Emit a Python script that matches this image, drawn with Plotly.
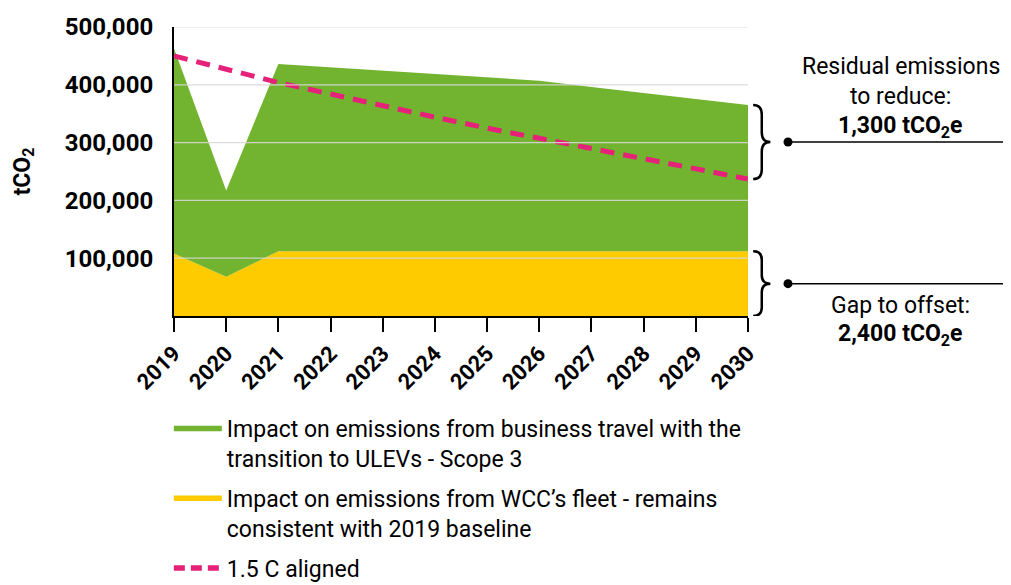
import plotly.graph_objects as go

# ---- data ----
years = list(range(2019, 2031))
fleet = [108000, 68000, 112000, 112000, 112000, 112000, 112000, 112000, 112000, 112000, 112000, 112000]
business = [355000, 149000, 324000, 318000, 312000, 307000, 301000, 295000, 284000, 274000, 263000, 253000]
target = [450000, 427000, 404000, 384000, 363000, 344000, 325000, 307000, 289000, 271000, 254000, 237000]
y_ticks = [100000, 200000, 300000, 400000, 500000]

legend_names = [
    "Impact on emissions from business travel with the<br>transition to ULEVs - Scope 3",
    "Impact on emissions from WCC\u2019s fleet - remains<br>consistent with 2019 baseline",
    "1.5 C aligned",
]

GREEN = "#72B42F"
YELLOW = "#FECB00"
PINK = "#E5217A"
FONT = "Roboto"

fig = go.Figure()

fig.add_trace(go.Scatter(x=years, y=fleet, stackgroup="one", mode="lines",
                         line=dict(width=0, color=YELLOW), fillcolor=YELLOW,
                         showlegend=False, hoverinfo="skip"))
fig.add_trace(go.Scatter(x=years, y=business, stackgroup="one", mode="lines",
                         line=dict(width=0, color=GREEN), fillcolor=GREEN,
                         showlegend=False, hoverinfo="skip"))
fig.add_trace(go.Scatter(x=years, y=target, mode="lines",
                         line=dict(color=PINK, width=5, dash="14px,9px"),
                         showlegend=False))

# legend-only line entries
fig.add_trace(go.Scatter(x=[None], y=[None], mode="lines", name=legend_names[0],
                         legendgroup="a", line=dict(color=GREEN, width=5.5)))
fig.add_trace(go.Scatter(x=[None], y=[None], mode="lines", name=legend_names[1],
                         legendgroup="b", line=dict(color=YELLOW, width=5.5)))
fig.add_trace(go.Scatter(x=[None], y=[None], mode="lines", name=legend_names[2],
                         legendgroup="c", line=dict(color=PINK, width=5.5, dash="11px,6px")))

# gridlines drawn above the areas
shapes = []
for v in y_ticks:
    shapes.append(dict(type="line", xref="paper", yref="y", x0=0, x1=1, y0=v, y1=v,
                       line=dict(color="rgba(215,215,215,0.9)", width=1.2), layer="above"))


def brace_path(x0, w, ytop, ybot):
    ym = (ytop + ybot) / 2
    xm = x0 + w / 2
    d = (ytop - ybot) * 0.13
    return (f"M {x0},{ytop} Q {xm},{ytop} {xm},{ytop - d} L {xm},{ym + d} "
            f"Q {xm},{ym} {x0 + w},{ym} Q {xm},{ym} {xm},{ym - d} "
            f"L {xm},{ybot + d} Q {xm},{ybot} {x0},{ybot}")


total_2030 = fleet[-1] + business[-1]
braces = [(total_2030, target[-1]), (fleet[-1], 0)]
for top, bot in braces:
    shapes.append(dict(type="path", xref="paper", yref="y",
                       path=brace_path(1.009, 0.03, top, bot),
                       line=dict(color="black", width=2.5)))
    mid = (top + bot) / 2
    shapes.append(dict(type="line", xref="paper", yref="y", x0=1.0697, x1=1.47,
                       y0=mid, y1=mid, line=dict(color="black", width=1.5)))
    shapes.append(dict(type="circle", xref="paper", yref="y",
                       xsizemode="pixel", ysizemode="pixel",
                       xanchor=1.0697, yanchor=mid, x0=-4.5, x1=4.5, y0=-4.5, y1=4.5,
                       fillcolor="black", line=dict(color="black", width=0)))

ann_font = dict(family=FONT, size=23, color="black")
annotations = []
right_text = [
    ("Residual emissions", 0.862, False),
    ("to reduce:", 0.761, False),
    ("1,300 tCO<sub>2</sub>e", 0.654, True),
    ("Gap to offset:", 0.038, False),
    ("2,400 tCO<sub>2</sub>e", -0.066, True),
]
for txt, yp, bold in right_text:
    f = dict(ann_font)
    if bold:
        f["weight"] = "bold"
    annotations.append(dict(text=txt, xref="paper", yref="paper", x=1.266, y=yp,
                            xanchor="center", yanchor="middle", showarrow=False, font=f))

# the page body adds an 8px offset, so the figure is 8px smaller and margins shifted
fig.update_layout(
    width=1003, height=577,
    margin=dict(l=166, r=263, t=19, b=269, autoexpand=False),
    paper_bgcolor="white", plot_bgcolor="white",
    font=dict(family=FONT, color="black"),
    shapes=shapes,
    annotations=annotations,
    showlegend=True,
    legend=dict(x=-0.009, y=-0.315, xanchor="left", yanchor="top",
                font=dict(family=FONT, size=23, color="black"),
                itemwidth=48, valign="top", tracegroupgap=7, traceorder="grouped",
                bgcolor="rgba(0,0,0,0)"),
    xaxis=dict(range=[2019, 2030], tickvals=years, ticktext=[str(y) for y in years],
               tickangle=-45, ticks="outside", ticklen=14, tickwidth=1.5, tickcolor="black",
               showline=True, linecolor="black", linewidth=2, showgrid=False,
               tickfont=dict(family=FONT, size=22, weight="bold", color="black"),
               zeroline=False),
    yaxis=dict(range=[0, 500000], tickvals=y_ticks, tickformat=",",
               showline=True, linecolor="black", linewidth=2, showgrid=False,
               zeroline=False, ticks="", ticklabelstandoff=14,
               tickfont=dict(family=FONT, size=24, weight="bold", color="black"),
               title=dict(text="tCO<sub>2</sub>", standoff=28,
                          font=dict(family=FONT, size=23, weight="bold", color="black"))),
)

fig.write_html("out.html")
